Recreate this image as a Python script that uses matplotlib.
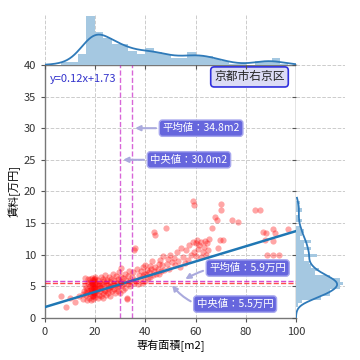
import numpy as np
import matplotlib
matplotlib.use("Agg")
import matplotlib.pyplot as plt

plt.rcParams['font.family'] = ['Noto Sans CJK JP', 'DejaVu Sans']

# 専有面積[m2]
area = [6.4, 8.2, 10.0, 12.0, 13.5,
        15.0, 15.5, 16.0, 16.2, 16.5, 16.8, 17.0, 15.8, 16.4, 17.1, 15.2, 16.9,
        17.5, 17.6, 17.8, 18.0, 18.0, 18.2, 18.3, 18.5, 18.5, 18.6, 18.8, 18.9,
        19.0, 19.0, 19.1, 19.2, 19.3, 19.4, 19.5, 19.5, 19.6, 19.7, 19.8, 19.8,
        19.9, 20.0, 20.0, 20.0, 20.1, 20.1, 19.3, 18.7, 17.9, 18.4, 19.6, 20.0,
        20.5, 20.8, 21.0, 21.0, 21.3, 21.5, 21.7, 22.0, 22.0, 22.2, 22.4, 22.5,
        22.8, 23.0, 23.0, 23.2, 23.4, 23.5, 23.7, 23.8, 21.8,
        24.0, 24.3, 24.5, 24.8, 25.0, 25.0, 25.3, 25.5, 25.7, 26.0, 26.0, 26.3,
        26.5, 26.8, 27.0, 27.0, 25.8,
        27.4, 27.6, 27.8, 28.0, 28.2, 28.5, 28.7, 29.0, 29.0, 29.3, 29.5, 29.7,
        30.0, 30.0, 30.1, 30.3,
        30.6, 31.0, 31.2, 31.5, 31.8, 32.0, 32.3, 32.5, 32.7, 33.0, 33.2, 33.5, 33.8,
        34.0, 34.5, 35.0, 35.3, 35.6, 35.9, 36.0, 36.5, 37.0, 37.5,
        38.0, 38.3, 38.6, 39.0, 39.2, 39.5, 40.0, 40.0, 40.4, 40.8, 41.0,
        41.5, 41.8, 42.0, 42.3, 42.6, 43.0, 43.3, 43.6, 43.8, 44.0, 44.3,
        45.0, 45.3, 45.6, 46.0, 46.4, 46.8, 47.2, 47.6,
        48.1, 48.5, 49.0, 49.5, 50.0, 50.8,
        51.5, 52.0, 52.6, 53.0, 53.8, 54.2,
        55.0, 55.6, 56.2, 56.8, 57.5, 58.0,
        58.8, 59.3, 59.0, 59.5, 60.0, 60.0, 60.5, 61.0, 61.5, 62.0, 62.2,
        62.8, 63.2, 63.6, 64.0, 64.5, 65.0, 65.5,
        66.4, 67.7, 68.4, 68.8,
        69.7, 70.2, 70.2, 71.0,
        74.4, 77.0, 83.7, 85.7, 86.7, 88.0, 87.6, 91.0, 91.6, 97.0, 88.3, 90.8,
        93.3, 91.0]

# 賃料[万円]
rent = [3.5, 1.8, 3.2, 2.6, 3.4,
        3.0, 4.2, 6.3, 3.6, 4.8, 2.8, 6.2, 5.2, 4.0, 5.5, 3.8, 4.5,
        3.2, 4.4, 5.0, 6.2, 3.8, 4.6, 5.3, 2.9, 4.1, 6.3, 4.9, 5.6,
        3.5, 4.3, 6.0, 5.1, 3.0, 4.7, 5.8, 4.0, 6.2, 3.6, 5.2, 4.5,
        6.4, 3.3, 4.8, 5.5, 4.2, 6.1, 5.4, 3.4, 5.7, 4.4, 3.9, 5.0,
        4.1, 5.3, 3.2, 6.0, 4.6, 5.0, 3.7, 5.6, 4.3, 6.5, 3.5, 4.9,
        5.4, 4.0, 6.2, 3.1, 5.1, 4.5, 5.8, 6.8, 4.8,
        4.2, 5.5, 3.6, 6.0, 4.8, 5.2, 3.9, 6.5, 4.5, 5.7, 3.4, 5.0,
        6.2, 4.3, 5.4, 7.0, 4.9,
        4.6, 6.0, 5.2, 3.9, 6.6, 4.8, 5.6, 4.3, 6.2, 5.0, 7.2, 5.5,
        4.0, 5.8, 7.9, 6.4,
        5.2, 4.5, 6.3, 5.6, 7.0, 4.8, 6.0, 3.1, 3.0, 5.4, 6.7, 7.5, 5.9,
        5.0, 6.5, 7.2, 5.6, 10.7, 11.0, 6.0, 7.8, 5.4, 6.8,
        6.2, 7.5, 5.5, 8.0, 6.6, 7.0, 5.8, 8.4, 6.9, 7.6, 6.3,
        7.2, 8.2, 6.5, 7.8, 9.0, 6.8, 7.5, 13.6, 13.1, 8.0, 7.0,
        7.8, 8.6, 6.9, 9.2, 7.4, 8.3, 9.8, 7.6,
        14.2, 8.5, 9.3, 7.8, 10.0, 8.8,
        9.5, 8.3, 10.4, 9.0, 8.0, 11.0,
        9.6, 8.7, 10.8, 9.2, 11.5, 10.0,
        18.5, 17.8, 12.0, 10.5, 11.8, 9.8, 12.3, 10.9, 11.5, 9.6, 12.0,
        10.5, 11.2, 12.2, 10.0, 11.8, 10.8, 12.5,
        14.2, 16.0, 15.5, 11.0,
        12.3, 18.0, 17.0, 12.3,
        15.5, 15.2, 17.0, 17.0, 13.6, 13.4, 12.4, 14.0, 13.4, 14.0, 10.0, 10.0,
        10.0, 12.1]

# values shown in the chart
slope, intercept = 0.12, 1.73
area_mean, area_median = 34.8, 30.0
rent_mean, rent_median = 5.9, 5.5
place = "京都市右京区"

area = np.array(area)
rent = np.array(rent)


def kde(data, grid, scale=0.7):
    bw = scale * data.std(ddof=1) * len(data) ** (-1 / 5)
    z = (grid[:, None] - data[None, :]) / bw
    return np.exp(-0.5 * z ** 2).sum(axis=1) / (len(data) * bw * np.sqrt(2 * np.pi))


fig = plt.figure(figsize=(3.6, 3.6), dpi=100)
ax = fig.add_axes([0.125, 0.1167, 0.697, 0.703])
axx = fig.add_axes([0.125, 0.8194, 0.697, 0.142], sharex=ax)
axy = fig.add_axes([0.822, 0.1167, 0.136, 0.703], sharey=ax)

grid_kw = dict(color='#cccccc', linestyle='--', linewidth=0.7)

# main scatter
ax.scatter(area, rent, s=20, color='red', alpha=0.35, linewidths=0, zorder=2)
xs = np.array([0, 100])
ax.plot(xs, slope * xs + intercept, color='#1f77b4', lw=1.8, zorder=3)
ax.axvline(area_median, color='m', ls='--', lw=1, alpha=0.6, zorder=3)
ax.axvline(area_mean, color='m', ls='--', lw=1, alpha=0.6, zorder=3)
ax.axhline(rent_mean, color='m', ls='--', lw=1, alpha=0.7, zorder=3)
ax.axhline(rent_median, color='red', ls='--', lw=1, alpha=0.7, zorder=3)

ax.set_xlim(0, 100)
ax.set_ylim(0, 40)
ax.set_xticks([0, 20, 40, 60, 80, 100])
ax.set_yticks(range(0, 41, 5))
ax.grid(True, **grid_kw)
ax.set_axisbelow(True)
ax.tick_params(labelsize=8, length=3, color='#555555', labelcolor='#333333')
for sp in ax.spines.values():
    sp.set_color('#777777')
    sp.set_linewidth(1)
ax.set_xlabel("専有面積[m2]", fontsize=8, labelpad=2)
ax.set_ylabel("賃料[万円]", fontsize=8, labelpad=2)

ax.text(0.02, 0.965, "y={:.2f}x+{:.2f}".format(slope, intercept), transform=ax.transAxes,
        color='#3333cc', fontsize=8, va='top', ha='left')
ax.text(81.5, 38.1, place, fontsize=8.5, ha='center', va='center', color='#222222',
        bbox=dict(boxstyle='round,pad=0.3', fc='#dcdcf5', ec='#3030dd', lw=1.2), zorder=5)

box = dict(boxstyle='round,pad=0.3', fc='#6666dd', ec='#a8a8ee', lw=1)
arrow = dict(arrowstyle='-|>', color='#aaaadd', lw=1.5)
ax.annotate("平均値：{:.1f}m2".format(area_mean), xy=(area_mean, 30), xytext=(area_mean + 12, 30),
            fontsize=7.5, color='white', va='center', ha='left', bbox=box, arrowprops=arrow, zorder=6)
ax.annotate("中央値：{:.1f}m2".format(area_median), xy=(area_median, 25), xytext=(area_median + 12, 25),
            fontsize=7.5, color='white', va='center', ha='left', bbox=box, arrowprops=arrow, zorder=6)
ax.annotate("平均値：{:.1f}万円".format(rent_mean), xy=(55, rent_mean), xytext=(65.5, 7.9),
            fontsize=7.5, color='white', va='center', ha='left', bbox=box,
            arrowprops=dict(arrow, connectionstyle='arc3,rad=0.2'), zorder=6)
ax.annotate("中央値：{:.1f}万円".format(rent_median), xy=(50, rent_median), xytext=(60.5, 2.2),
            fontsize=7.5, color='white', va='center', ha='left', bbox=box,
            arrowprops=dict(arrow, connectionstyle='arc3,rad=-0.35'), zorder=6)

# top marginal
axx.hist(area, bins=27, density=True, color='#a5c8e1', zorder=2)
gx = np.linspace(0, 100, 400)
dx = kde(area, gx)
axx.plot(gx, dx, color='#2f7ab9', lw=1.3, zorder=3)
axx.set_ylim(0, None)
axx.grid(True, axis='x', **grid_kw)
axx.set_axisbelow(True)
axx.tick_params(labelbottom=False, left=False, labelleft=False, length=3, color='#555555')
axx.set_yticks([])
for sp in axx.spines.values():
    sp.set_visible(False)

# right marginal
axy.hist(rent, bins=30, density=True, orientation='horizontal', color='#a5c8e1', zorder=2)
gy = np.linspace(0, 19, 300)
dy = kde(rent, gy)
axy.plot(dy, gy, color='#2f7ab9', lw=1.3, zorder=3)
axy.set_xlim(0, None)
axy.grid(True, axis='y', **grid_kw)
axy.set_axisbelow(True)
axy.tick_params(labelleft=False, bottom=False, labelbottom=False, length=3, color='#555555')
axy.set_xticks([])
for sp in axy.spines.values():
    sp.set_visible(False)

plt.savefig("out.png", dpi=100)
